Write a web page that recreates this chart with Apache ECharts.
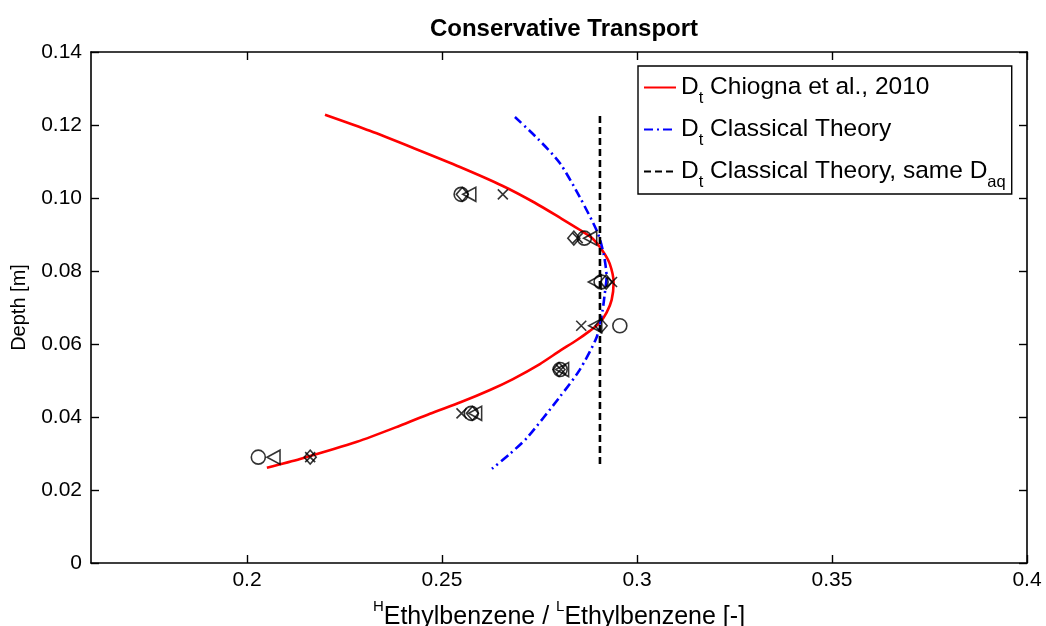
<!DOCTYPE html>
<html>
<head>
<meta charset="utf-8">
<script src="https://cdn.jsdelivr.net/npm/echarts@6/dist/echarts.min.js"></script>
<style>
html,body{margin:0;padding:0;background:#fff;}
#chart{width:1046px;height:626px;}
</style>
</head>
<body>
<div id="chart"></div>
<script>
// ---- data ----
const xTicks = [0.2, 0.25, 0.3, 0.35, 0.4];
const chiognaX = [0.2200, 0.2315, 0.2431, 0.2546, 0.2656, 0.2738, 0.2807, 0.2853, 0.2884, 0.2912, 0.2930, 0.2940,
                  0.2935, 0.2922, 0.2904, 0.2879, 0.2846, 0.2802, 0.2751, 0.2682, 0.2623, 0.2549, 0.2469, 0.2392, 0.2282, 0.2136, 0.2051];
const chiognaY = [0.1228, 0.1184, 0.1135, 0.1085, 0.1033, 0.0987, 0.0943, 0.0913, 0.0891, 0.0855, 0.0820, 0.0768,
                  0.0721, 0.0686, 0.0658, 0.0636, 0.0611, 0.0581, 0.0545, 0.0504, 0.0474, 0.0441, 0.0409, 0.0376, 0.0332, 0.0285, 0.0261];
const classicalX = [0.2687, 0.2746, 0.2802, 0.2853, 0.2899, 0.2915, 0.2922, 0.2917, 0.2912, 0.2897, 0.2853, 0.2802, 0.2718, 0.2674, 0.2628];
const classicalY = [0.1222, 0.1162, 0.1096, 0.1003, 0.0905, 0.0844, 0.0784, 0.0735, 0.0694, 0.0620, 0.0529, 0.0455, 0.0343, 0.0299, 0.0258];
const sameDaqX = [0.2905, 0.2905];
const sameDaqY = [0.1225, 0.0265];
const depths = [0.101, 0.089, 0.077, 0.065, 0.053, 0.041, 0.029];
const circleX = [0.2549, 0.2865, 0.2908, 0.2956, 0.2803, 0.2575, 0.2029];
const triangleX = [0.2570, 0.2880, 0.2892, 0.2893, 0.2808, 0.2585, 0.2068];
const diamondX = [0.2552, 0.2838, 0.2921, 0.2908, 0.2800, 0.2578, 0.2162];
const crossX = [0.2656, 0.2848, 0.2936, 0.2857, 0.2805, 0.2550, 0.2162];

const zip = (xs, ys) => xs.map((x, i) => [x, ys[i]]);
const FONT = 'Liberation Sans, Arial, sans-serif';

const chart = echarts.init(document.getElementById('chart'));
const axisLine = {show: true, onZero: false, lineStyle: {color: '#000', width: 1.6}};
const tickStyle = {show: true, inside: true, length: 8, lineStyle: {color: '#000', width: 1.4}};

const markerBase = {
  type: 'scatter', silent: true, z: 5,
  itemStyle: {color: 'rgba(0,0,0,0)', borderColor: '#000', borderWidth: 1.6}
};

chart.setOption({
  animation: false,
  backgroundColor: '#fff',
  title: {
    text: 'Conservative Transport', left: 559, top: 12, textAlign: 'center',
    textStyle: {fontFamily: FONT, fontWeight: 'bold', fontSize: 24, color: '#000'}
  },
  grid: {left: 91, right: 19, top: 52, bottom: 63, outerBoundsMode: 'none', containLabel: false},
  legend: {
    left: 638, top: 66, orient: 'vertical',
    padding: [9, 6, 3, 5], itemGap: 10, itemWidth: 32, itemHeight: 14,
    backgroundColor: '#fff', borderColor: '#000', borderWidth: 1.4,
    itemStyle: {opacity: 0},
    data: ['chiogna', 'classical', 'sameDaq'],
    formatter: function (n) {
      if (n === 'chiogna') return '{m|D}{s|t}{m| Chiogna et al., 2010}';
      if (n === 'classical') return '{m|D}{s|t}{m| Classical Theory}';
      return '{m|D}{s|t}{m| Classical Theory, same D}{s|aq}';
    },
    textStyle: {
      fontFamily: FONT, color: '#000',
      rich: {
        m: {fontFamily: FONT, fontSize: 24.5, lineHeight: 25, verticalAlign: 'top', color: '#000'},
        s: {fontFamily: FONT, fontSize: 16.5, lineHeight: 16, padding: [15, 0, 0, 0], verticalAlign: 'top', color: '#000'}
      }
    }
  },
  xAxis: [{
    type: 'value', position: 'bottom', min: 0.16, max: 0.4,
    axisLine: axisLine, splitLine: {show: false},
    axisTick: Object.assign({customValues: xTicks}, tickStyle),
    axisLabel: {customValues: xTicks, margin: 7, fontFamily: FONT, fontSize: 21, color: '#000',
      formatter: v => String(+v.toFixed(2))},
    name: '{p|H}{n|Ethylbenzene / }{p|L}{n|Ethylbenzene [-]}',
    nameLocation: 'middle', nameGap: 36,
    nameTextStyle: {
      rich: {
        p: {fontFamily: FONT, fontSize: 15, lineHeight: 15, verticalAlign: 'top', color: '#000'},
        n: {fontFamily: FONT, fontSize: 25, lineHeight: 25, padding: [6, 0, 0, 0], verticalAlign: 'top', color: '#000'}
      }
    }
  }, {
    type: 'value', position: 'top', min: 0.16, max: 0.4,
    axisLine: axisLine, splitLine: {show: false},
    axisTick: Object.assign({customValues: xTicks}, tickStyle),
    axisLabel: {show: false}
  }],
  yAxis: [{
    type: 'value', position: 'left', min: 0, max: 0.14, interval: 0.02,
    axisLine: axisLine, splitLine: {show: false}, axisTick: tickStyle,
    axisLabel: {margin: 9, fontFamily: FONT, fontSize: 21, color: '#000',
      formatter: v => (v === 0 ? '0' : v.toFixed(2))},
    name: 'Depth [m]', nameLocation: 'middle', nameGap: 62,
    nameTextStyle: {fontFamily: FONT, fontSize: 20, color: '#000'}
  }, {
    type: 'value', position: 'right', min: 0, max: 0.14, interval: 0.02,
    axisLine: axisLine, splitLine: {show: false}, axisTick: tickStyle,
    axisLabel: {show: false}
  }],
  series: [
    {
      name: 'chiogna', type: 'line', data: zip(chiognaX, chiognaY), smooth: 0.25,
      symbol: 'none', z: 3, lineStyle: {color: '#ff0000', width: 2.6}, itemStyle: {color: '#ff0000'}
    },
    {
      name: 'classical', type: 'line', data: zip(classicalX, classicalY), smooth: 0.25,
      symbol: 'none', z: 3, lineStyle: {color: '#0000ff', width: 2.6, type: [9, 4, 2, 4]}, itemStyle: {color: '#0000ff'}
    },
    {
      name: 'sameDaq', type: 'line', data: zip(sameDaqX, sameDaqY),
      symbol: 'none', z: 4, lineStyle: {color: '#000', width: 2.6, type: [7, 4]}, itemStyle: {color: '#000'}
    },
    Object.assign({}, markerBase, {name: 'circle', symbol: 'circle', symbolSize: 14, data: zip(circleX, depths)}),
    Object.assign({}, markerBase, {name: 'triangle', symbol: 'triangle', symbolRotate: 90, symbolSize: [14, 13], data: zip(triangleX, depths)}),
    Object.assign({}, markerBase, {name: 'diamond', symbol: 'diamond', symbolSize: [12, 14], data: zip(diamondX, depths)}),
    Object.assign({}, markerBase, {name: 'cross', symbol: 'path://M0,0L10,10M10,0L0,10', symbolSize: 10, data: zip(crossX, depths)})
  ]
});
</script>
</body>
</html>
